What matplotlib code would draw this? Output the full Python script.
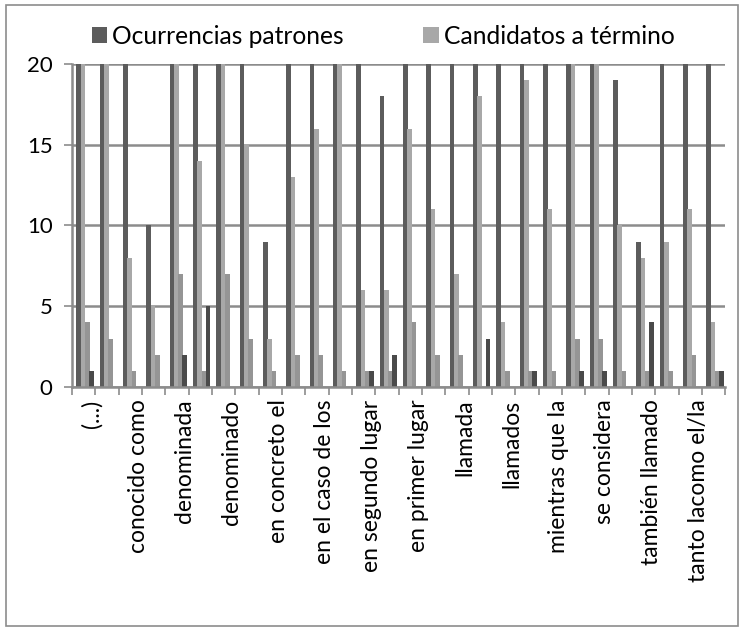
import numpy as np
import matplotlib
matplotlib.use("Agg")
import matplotlib.pyplot as plt
import matplotlib.transforms as mtransforms
from matplotlib.patches import Rectangle

plt.rcParams['font.family'] = ['Lato', 'DejaVu Sans']

# Etiquetas visibles (una de cada dos categorias)
etiquetas = ['(...)', 'conocido como', 'denominada', 'denominado', 'en concreto el',
             'en el caso de los', 'en segundo lugar', 'en primer lugar', 'llamada',
             'llamados', 'mientras que la', 'se considera', 'también llamado',
             'tanto lacomo el/la']

# 28 categorias, valores (30 = barra cortada en 20)
ocurrencias = [30, 30, 30, 10, 30, 30, 30, 30, 9, 30, 30, 30, 30, 18,
               30, 30, 30, 30, 30, 30, 30, 30, 30, 19, 9, 30, 30, 30]
candidatos = [30, 30, 8, 5, 30, 14, 30, 15, 3, 13, 16, 30, 6, 6,
              16, 11, 7, 18, 4, 19, 11, 30, 30, 10, 8, 9, 11, 4]
serie3 = [4, 3, 1, 2, 7, 1, 7, 3, 1, 2, 2, 1, 1, 1,
          4, 2, 2, 0, 1, 1, 1, 3, 3, 1, 1, 1, 2, 1]
serie4 = [1, 0, 0, 0, 2, 5, 0, 0, 0, 0, 0, 0, 1, 2,
          0, 0, 0, 3, 0, 1, 0, 1, 1, 0, 4, 0, 0, 1]

x = np.arange(len(ocurrencias))
w = 0.2

fig = plt.figure(figsize=(7.45, 6.32), dpi=100)
ax = fig.add_axes([0.0966, 0.3877, 0.877, 0.511])

b1 = ax.bar(x - 0.22, ocurrencias, w, color='#5c5c5c', label='Ocurrencias patrones')
b2 = ax.bar(x - 0.03, candidatos, w, color='#a8a8a8', label='Candidatos a término')
ax.bar(x + 0.16, serie3, w, color='#959595')
ax.bar(x + 0.33, serie4, w, color='#4a4a4a')

ax.set_ylim(0, 20)
ax.set_xlim(-0.5, len(x) - 0.5)
ax.set_yticks([0, 5, 10, 15, 20])
ax.yaxis.grid(True, color='#8c8c8c', linewidth=1.8)
ax.set_axisbelow(True)

ax.set_xticks(x[::2])
ax.set_xticklabels(etiquetas, rotation=90, fontsize=16.5)
ax.set_xticks(np.arange(len(x) + 1) - 0.5, minor=True)
ax.tick_params(axis='x', which='major', length=0, pad=9)
ax.tick_params(axis='x', which='minor', length=6, color='#8c8c8c', width=1.2)
ax.tick_params(axis='y', length=6, color='#8c8c8c', width=1.2, labelsize=16, pad=8)
offset = mtransforms.ScaledTranslation(8 / 100, 0, fig.dpi_scale_trans)
for lab in ax.get_xticklabels():
    lab.set_transform(lab.get_transform() + offset)

for s in ['top', 'right']:
    ax.spines[s].set_visible(False)
for s in ['left', 'bottom']:
    ax.spines[s].set_color('#8c8c8c')
    ax.spines[s].set_linewidth(1.8)

fig.legend(handles=[b1, b2], loc='center', bbox_to_anchor=(0.514, 0.943), ncol=2,
           frameon=False, fontsize=17.7, handlelength=0.65, handleheight=0.65,
           handletextpad=0.2, columnspacing=3.2)

fig.patches.append(Rectangle((0.008, 0.009), 0.982, 0.983, transform=fig.transFigure,
                             fill=False, edgecolor='#8c8c8c', linewidth=1.2))

fig.savefig('out.png', dpi=100)
